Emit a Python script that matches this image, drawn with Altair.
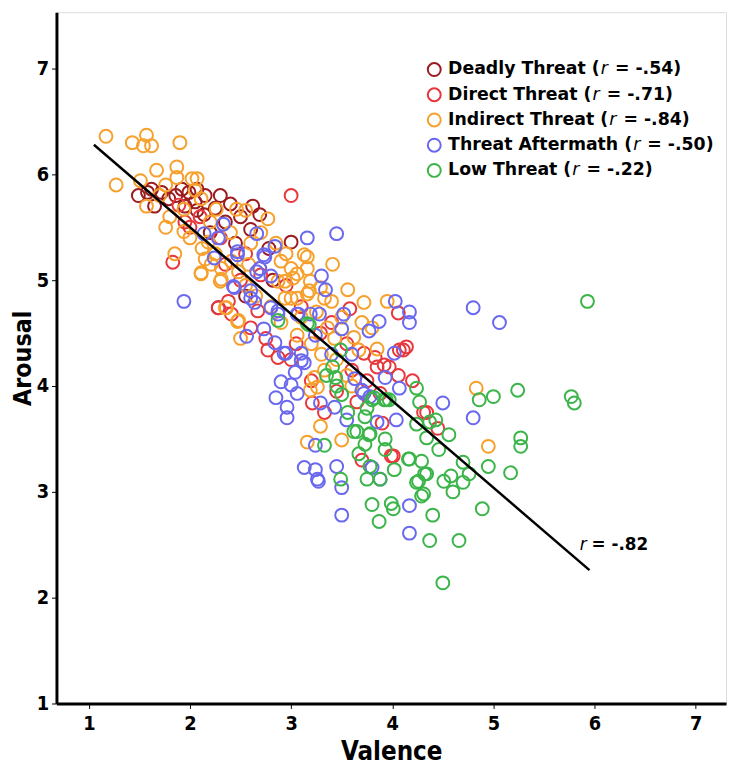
import altair as alt
import pandas as pd

# ---------------- data ----------------
deadly_x = [1.49,1.58,1.65,1.72,1.79,1.86,1.92,1.99,2.07,2.15,2.30,2.07,2.14,2.69,3.00,2.28,2.35,2.50,2.20,1.95,2.60,2.40,1.62,2.05,2.78,2.45,2.25,2.62,2.55,2.82]
deadly_y = [5.80,5.83,5.70,5.83,5.77,5.80,5.86,5.83,5.86,5.80,5.80,5.66,5.62,5.62,5.36,4.74,5.55,5.60,5.45,5.70,5.48,5.72,5.86,5.74,5.30,5.35,5.68,5.70,4.85,5.00]

direct_x = [1.83,3.00,1.89,2.28,2.41,2.67,2.38,2.77,2.87,3.29,3.58,3.72,3.85,3.97,4.07,4.14,4.31,4.06,3.83,3.92,4.11,4.06,3.21,3.33,4.01,4.34,3.65,3.88,3.99,2.10,2.00,2.30,2.55,2.70,2.95,3.10,2.60,2.75,3.05,3.40,3.55,3.60,3.45,3.20,3.00,2.50,2.35,1.95,3.75,4.20,3.90,4.45,3.70]
direct_y = [5.17,5.80,5.71,4.74,4.68,4.71,4.80,4.34,4.27,4.50,4.73,4.31,4.18,4.18,4.34,4.37,3.75,4.69,4.27,4.20,4.34,4.10,3.84,3.75,3.34,3.75,3.85,3.93,3.34,5.60,5.50,5.40,5.25,5.05,4.95,4.75,4.55,4.45,4.40,4.60,4.40,4.15,3.95,4.05,4.25,5.00,5.15,5.55,4.05,4.05,3.65,3.60,3.30]

indirect_x = [1.17,1.43,1.57,1.54,1.62,1.90,1.27,1.67,1.87,1.87,2.02,2.07,1.51,1.76,1.57,1.94,2.11,2.26,2.46,2.55,2.77,1.76,1.94,2.12,2.18,2.11,2.31,2.31,2.41,2.48,2.58,2.69,2.90,3.00,3.13,3.16,3.19,3.06,2.94,3.16,3.00,3.29,2.35,2.48,2.11,2.30,2.21,2.36,2.47,2.50,3.16,3.02,2.87,2.94,3.06,3.18,3.33,3.41,3.56,3.72,3.06,3.36,3.43,3.62,3.67,3.23,3.33,3.26,3.19,3.29,3.16,3.50,4.83,4.95,1.70,1.80,2.00,2.20,2.40,2.60,2.70,2.85,2.95,2.25,2.55,2.65,2.80,2.90,3.10,3.25,3.40,3.50,3.20,3.30,3.45,3.55,3.80,3.95,3.70,3.85,3.60,2.15,1.85,2.05]
indirect_y = [6.36,6.30,6.37,6.27,6.27,6.30,5.90,6.04,6.07,5.97,5.96,5.96,5.94,5.90,5.70,5.67,5.77,5.67,5.67,5.66,5.58,5.50,5.46,5.30,5.36,5.07,5.11,5.01,5.18,5.08,5.15,5.11,5.18,5.11,5.24,5.11,4.99,5.06,4.99,4.87,4.83,4.93,4.74,4.62,5.06,4.99,5.15,4.74,4.61,4.45,5.22,5.02,4.99,4.83,4.83,4.90,4.83,5.15,4.91,4.79,4.48,4.55,4.45,4.46,4.34,4.08,4.15,3.99,3.96,3.62,3.47,3.49,3.98,3.43,5.80,5.60,5.40,5.55,5.45,5.35,5.45,5.35,5.25,5.25,4.95,4.85,4.75,4.60,4.65,4.70,4.80,4.65,4.40,4.30,4.25,4.10,4.55,4.80,4.60,4.35,4.00,5.20,5.25,5.85]

aftermath_x = [2.33,2.14,2.28,3.16,2.66,2.47,2.73,2.84,2.24,1.94,2.66,2.80,2.60,2.43,2.60,2.80,2.87,3.06,3.19,2.47,2.74,2.44,2.64,2.69,2.56,2.73,2.84,2.93,3.04,3.10,3.13,3.34,2.87,3.07,3.28,3.52,3.50,3.24,2.95,3.10,3.77,3.87,4.03,4.17,4.17,4.02,3.93,4.07,3.63,3.70,3.78,2.90,3.00,3.06,2.85,2.96,2.96,3.29,3.43,3.55,3.24,3.13,3.26,3.45,3.50,3.88,4.80,5.06,4.50,4.80,3.72,3.85,4.04,4.17,4.17,3.50,3.24,3.27,3.80,3.45,3.30,3.40,3.60]
aftermath_y = [5.53,5.44,5.40,5.40,5.44,5.27,5.24,5.32,5.21,4.80,5.08,5.04,4.90,4.94,4.83,4.74,4.68,4.68,4.68,5.24,5.22,4.93,4.79,5.11,4.47,4.54,4.41,4.31,4.13,4.31,4.22,4.91,4.71,4.68,4.68,4.68,4.54,4.48,4.31,4.24,4.52,4.61,4.80,4.70,4.60,4.31,4.08,3.98,4.07,3.96,3.90,4.04,4.01,3.93,3.89,3.80,3.70,3.84,3.80,3.68,3.44,3.23,3.12,3.24,3.04,3.12,4.74,4.60,3.84,3.70,3.93,3.66,3.68,2.87,2.61,2.78,3.21,3.10,3.23,5.44,5.04,4.30,4.30]

low_x = [2.87,3.16,3.18,3.49,3.41,3.44,3.50,3.56,3.80,3.92,3.97,4.24,4.27,4.37,3.73,3.78,3.93,3.65,3.67,3.78,3.88,3.75,3.33,3.49,4.17,4.29,4.32,4.24,4.31,4.86,5.00,5.24,5.77,5.80,4.43,4.24,4.34,4.56,4.46,4.70,4.76,4.58,4.60,4.70,4.51,4.34,4.29,4.02,4.26,4.95,5.17,5.27,5.27,4.89,4.40,4.66,4.37,4.50,3.80,3.87,3.99,4.01,3.62,3.73,3.93,3.77,3.82,3.94,3.75,4.16,5.93,3.45,3.35]
low_y = [4.62,4.59,4.58,4.34,4.18,4.08,3.92,3.75,3.87,3.87,3.87,3.98,3.85,3.66,3.71,3.55,3.50,3.57,3.36,3.24,3.12,3.12,3.44,3.12,3.31,3.29,3.17,3.09,2.98,3.87,3.90,3.96,3.90,3.84,3.68,3.64,3.51,3.54,3.40,3.28,3.17,3.15,3.00,3.09,3.10,3.17,2.96,3.21,3.10,3.24,3.18,3.51,3.43,2.84,2.78,2.54,2.54,2.14,2.88,2.72,2.89,2.84,3.57,3.45,3.40,3.54,3.89,3.87,3.79,3.31,4.80,4.00,4.10]

groups = ["Deadly Threat", "Direct Threat", "Indirect Threat", "Threat Aftermath", "Low Threat"]
r_values = ["-.54", "-.71", "-.84", "-.50", "-.22"]
colors = ["#9b1b1f", "#e8373c", "#f6a02d", "#6a68ef", "#3bb54a"]

line_x = [1.05, 5.95]
line_y = [6.28, 2.26]
overall_r = "-.82"

x_ticks = [1, 2, 3, 4, 5, 6, 7]
y_ticks = [1, 2, 3, 4, 5, 6, 7]

# ---------------- build tables ----------------
series = [(deadly_x, deadly_y), (direct_x, direct_y), (indirect_x, indirect_y),
          (aftermath_x, aftermath_y), (low_x, low_y)]
rows = []
for g, (xs, ys) in zip(groups, series):
    for a, b in zip(xs, ys):
        rows.append({"valence": a, "arousal": b, "group": g})
points = pd.DataFrame(rows)

W, H = 677, 699
XMIN, XMAX = 0.68, 7.30
YMIN, YMAX = 1.0, 1.0 + H / 107.0
PX_X = W / (XMAX - XMIN)
PX_Y = H / (YMAX - YMIN)

# DejaVu Sans Bold advance widths (em) for the legend layout
DB = {" ": .348, "(": .457, ")": .457, "-": .415, ".": .381, "=": .838,
      "A": .774, "D": .830, "I": .372, "L": .637, "T": .682,
      "a": .675, "c": .593, "d": .716, "e": .678, "f": .435, "h": .712, "i": .343,
      "l": .343, "m": 1.042, "n": .712, "o": .687, "r": .493, "s": .595, "t": .478,
      "w": .924, "y": .652, "u": .712}
for dg in "0123456789":
    DB[dg] = .696
R_ITALIC = .411
SPACE = .348

FONT = "DejaVu Sans, Verdana, sans-serif"
AXFONT = "DejaVu Sans Condensed, DejaVu Sans, sans-serif"


def tw(s, size):
    return sum(DB.get(ch, .68) for ch in s) * size


LEG_FS = 17.5
leg_circle_x = XMIN + (438 - 56) / PX_X
leg_text_x = XMIN + (452 - 56) / PX_X
leg_top_y = YMAX - (66 - 8) / PX_Y
leg_step = 25.5 / PX_Y
leg_rows = []
for i, (g, r) in enumerate(zip(groups, r_values)):
    pre = g + " ("
    suf = "= " + r + ")"
    x_r = leg_text_x + (tw(pre, LEG_FS) + 1) / PX_X
    x_s = x_r + ((R_ITALIC + SPACE) * LEG_FS + 1) / PX_X
    leg_rows.append({"group": g, "pre": pre, "suf": suf, "y": leg_top_y - i * leg_step,
                     "xc": leg_circle_x, "xt": leg_text_x, "xr": x_r, "xs": x_s})
legend_df = pd.DataFrame(leg_rows)

line_df = pd.DataFrame({"valence": line_x, "arousal": line_y})

ann_df = pd.DataFrame({"x_r": [XMIN + (585 - 56) / PX_X],
                       "x_s": [XMIN + (597 - 56) / PX_X],
                       "y": [YMIN + (707 - 547) / PX_Y],
                       "r": ["r"], "txt": ["= " + overall_r]})

# ---------------- chart ----------------
xscale = alt.Scale(domain=[XMIN, XMAX], nice=False, zero=False)
yscale = alt.Scale(domain=[YMIN, YMAX], nice=False, zero=False)
cscale = alt.Scale(domain=groups, range=colors)

axis_common = dict(grid=False, domainColor="black", domainWidth=3, tickColor="black",
                   tickWidth=1, tickSize=5, labelFont=AXFONT, labelFontSize=20,
                   labelFontWeight="bold", labelColor="black", titleFont=AXFONT,
                   titleFontWeight="bold", titleColor="black", format="d")

scatter = alt.Chart(points).mark_point(filled=False, strokeWidth=2, size=170, opacity=1).encode(
    x=alt.X("valence:Q", scale=xscale,
            axis=alt.Axis(values=x_ticks, title="Valence", titleFontSize=26,
                          labelPadding=5, titlePadding=6, **axis_common)),
    y=alt.Y("arousal:Q", scale=yscale,
            axis=alt.Axis(values=y_ticks, title="Arousal", titleFontSize=25,
                          labelPadding=3, titlePadding=1, **axis_common)),
    color=alt.Color("group:N", scale=cscale, legend=None),
)

reg = alt.Chart(line_df).mark_line(color="black", strokeWidth=2.5).encode(
    x=alt.X("valence:Q", scale=xscale), y=alt.Y("arousal:Q", scale=yscale))

ann_r = alt.Chart(ann_df).mark_text(align="left", baseline="middle", font=FONT, fontSize=17,
                                    fontStyle="italic", color="black").encode(
    x=alt.X("x_r:Q", scale=xscale), y=alt.Y("y:Q", scale=yscale), text="r:N")
ann_t = alt.Chart(ann_df).mark_text(align="left", baseline="middle", font=FONT, fontSize=17,
                                    fontWeight="bold", color="black").encode(
    x=alt.X("x_s:Q", scale=xscale), y=alt.Y("y:Q", scale=yscale), text="txt:N")

leg_c = alt.Chart(legend_df).mark_point(filled=False, strokeWidth=2, size=170, opacity=1).encode(
    x=alt.X("xc:Q", scale=xscale), y=alt.Y("y:Q", scale=yscale),
    color=alt.Color("group:N", scale=cscale, legend=None))
leg_pre = alt.Chart(legend_df).mark_text(align="left", baseline="middle", font=FONT,
                                         fontSize=LEG_FS, fontWeight="bold", color="black").encode(
    x=alt.X("xt:Q", scale=xscale), y=alt.Y("y:Q", scale=yscale), text="pre:N")
leg_r = alt.Chart(legend_df).mark_text(align="left", baseline="middle", font=FONT,
                                       fontSize=LEG_FS, fontStyle="italic", color="black").encode(
    x=alt.X("xr:Q", scale=xscale), y=alt.Y("y:Q", scale=yscale), text=alt.value("r"))
leg_suf = alt.Chart(legend_df).mark_text(align="left", baseline="middle", font=FONT,
                                         fontSize=LEG_FS, fontWeight="bold", color="black").encode(
    x=alt.X("xs:Q", scale=xscale), y=alt.Y("y:Q", scale=yscale), text="suf:N")

chart = alt.layer(scatter, reg, ann_r, ann_t, leg_c, leg_pre, leg_r, leg_suf).properties(
    width=W, height=H,
    autosize=alt.AutoSizeParams(type="none"),
    padding={"left": 49, "top": 0, "right": 2, "bottom": 62},
).configure_view(stroke=None).configure(background="white")

chart.save("out.html", embed_options={"renderer": "svg", "actions": False})
